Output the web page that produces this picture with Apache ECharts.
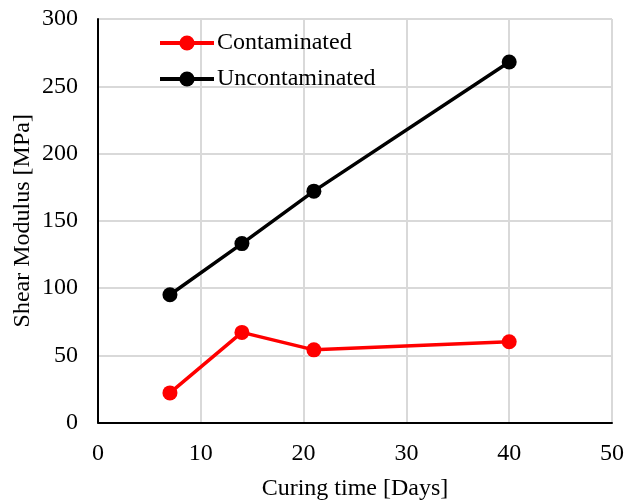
<!DOCTYPE html>
<html>
<head>
<meta charset="utf-8">
<script src="https://cdn.jsdelivr.net/npm/echarts@6/dist/echarts.min.js"></script>
<style>
  html, body { margin: 0; padding: 0; background: #fff; }
  #chart { width: 626px; height: 501px; }
</style>
</head>
<body>
<div id="chart"></div>
<script>
// Curing time (days) and measured shear modulus (MPa)
const curingDays = [7, 14, 21, 40];
const contaminated = [22, 67, 54, 60];
const uncontaminated = [95, 133, 172, 268];

const fontFamily = '"Liberation Serif", "Times New Roman", serif';

function pairs(xs, ys) {
  return xs.map((x, i) => [x, ys[i]]);
}

const chart = echarts.init(document.getElementById('chart'), null, { renderer: 'canvas' });
chart.setOption({
  animation: false,
  backgroundColor: '#fff',
  textStyle: { fontFamily: fontFamily, color: '#000' },
  grid: { left: 98, right: 14, top: 19, bottom: 78.5, containLabel: false, outerBoundsMode: 'none' },
  legend: {
    orient: 'vertical',
    left: 158,
    top: 31,
    padding: 0,
    itemWidth: 54,
    itemHeight: 19,
    itemGap: 12,
    lineStyle: { width: 4 },
    textStyle: { fontFamily: fontFamily, fontSize: 24, color: '#000', padding: [0, 0, 0, -2] },
    data: ['Contaminated', 'Uncontaminated']
  },
  xAxis: {
    type: 'value',
    min: 0, max: 50, interval: 10,
    name: 'Curing time [Days]',
    nameLocation: 'middle',
    nameGap: 54,
    nameMoveOverlap: false,
    nameTextStyle: { fontFamily: fontFamily, fontSize: 24, color: '#000' },
    axisLine: { show: true, onZero: false, lineStyle: { color: '#000', width: 2 } },
    axisTick: { show: false },
    axisLabel: { fontFamily: fontFamily, fontSize: 24, color: '#000', margin: 19 },
    splitLine: { show: true, lineStyle: { color: '#d9d9d9', width: 2 } }
  },
  yAxis: {
    type: 'value',
    min: 0, max: 300, interval: 50,
    name: 'Shear Modulus [MPa]',
    nameLocation: 'middle',
    nameGap: 63,
    nameMoveOverlap: false,
    nameTextStyle: { fontFamily: fontFamily, fontSize: 24, color: '#000' },
    axisLine: { show: true, lineStyle: { color: '#000', width: 2 } },
    axisTick: { show: false },
    axisLabel: { fontFamily: fontFamily, fontSize: 24, color: '#000', margin: 20 },
    splitLine: { show: true, lineStyle: { color: '#d9d9d9', width: 2 } }
  },
  series: [
    {
      name: 'Contaminated',
      type: 'line',
      data: pairs(curingDays, contaminated),
      symbol: 'circle',
      symbolSize: 15,
      lineStyle: { color: '#ff0000', width: 3.5 },
      itemStyle: { color: '#ff0000' }
    },
    {
      name: 'Uncontaminated',
      type: 'line',
      data: pairs(curingDays, uncontaminated),
      symbol: 'circle',
      symbolSize: 15,
      lineStyle: { color: '#000000', width: 3.5 },
      itemStyle: { color: '#000000' }
    }
  ]
});
</script>
</body>
</html>
